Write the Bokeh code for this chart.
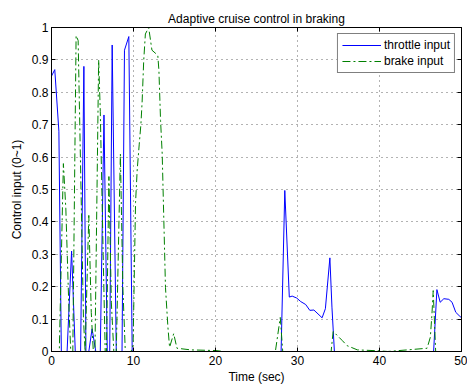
from bokeh.plotting import figure
from bokeh.models import (ColumnDataSource, FixedTicker, LinearAxis, Legend, LegendItem, Range1d)
from bokeh.embed import file_html
from bokeh.resources import INLINE

# ---- data ----
throttle_t = [0.0, 0.4, 0.9, 1.2, 1.9, 2.45, 2.9, 3.55, 3.95, 4.2, 4.55, 4.95, 5.4,
              5.95, 6.4, 6.8, 7.1, 7.4, 7.9, 8.6, 8.9, 9.43, 9.84,
              28.0, 28.45, 29.0, 29.35, 29.9, 30.4, 31.0, 31.5, 32.0, 32.5, 33.0,
              33.4, 33.95, 34.2, 34.5,
              46.6, 47.0, 47.4, 47.85, 48.45, 48.85, 49.3, 49.7, 50.0]
throttle_u = [0.85, 0.87, 0.68, 0.0, 0.0, 0.31, 0.0, 0.0, 0.88, 0.0, 0.0, 0.07, 0.0,
              0.0, 0.73, 0.0, 0.0, 0.946, 0.0, 0.0, 0.93, 0.972, 0.0,
              0.0, 0.497, 0.168, 0.171, 0.165, 0.154, 0.145, 0.127, 0.128, 0.116, 0.104,
              0.132, 0.289, 0.137, 0.0,
              0.0, 0.191, 0.152, 0.163, 0.161, 0.152, 0.121, 0.111, 0.104]

brake_t = [0.0, 0.95, 1.45, 1.75, 2.1, 2.35, 2.6, 3.0, 3.25, 3.6, 3.9, 4.1, 4.55, 4.85,
           5.1, 5.3, 5.75, 5.95, 6.3, 6.55, 6.7, 7.0, 7.3, 7.6, 7.9, 8.4, 8.7, 9.0,
           9.7, 9.95, 10.25, 10.45, 10.7, 10.9, 11.05, 11.25, 11.45, 11.85, 12.25,
           12.7, 12.96, 13.1, 13.3, 13.5, 13.7, 13.9, 14.2, 14.4, 14.9, 15.3, 17.0,
           20.0, 21.0, 27.3, 27.9, 28.2, 34.1, 34.35, 35.45, 36.05, 37.3, 40.0, 41.0,
           45.8, 46.2, 46.4, 46.55, 46.85, 50.0]
brake_u = [0.0, 0.0, 0.58, 0.44, 0.15, 0.0, 0.0, 0.975, 0.96, 0.5, 0.1, 0.0, 0.42, 0.12,
           0.0, 0.0, 0.9, 0.74, 0.3, 0.0, 0.0, 0.54, 0.15, 0.0, 0.0, 0.61, 0.2, 0.0,
           0.0, 0.02, 0.46, 0.56, 0.64, 0.7, 0.77, 0.9, 0.98, 1.0, 0.93,
           0.92, 0.915, 0.867, 0.713, 0.61, 0.404, 0.198, 0.074, 0.013, 0.055, 0.01, 0.005,
           0.003, 0.0, 0.0, 0.105, 0.0, 0.0, 0.062, 0.034, 0.018, 0.005, 0.002, 0.0,
           0.01, 0.044, 0.117, 0.188, 0.0, 0.0]

x_ticks = [0, 10, 20, 30, 40, 50]
x_tick_labels = ["0", "10", "20", "30", "40", "50"]
y_ticks = [0, 0.1, 0.2, 0.3, 0.4, 0.5, 0.6, 0.7, 0.8, 0.9, 1]
y_tick_labels = ["0", "0.1", "0.2", "0.3", "0.4", "0.5", "0.6", "0.7", "0.8", "0.9", "1"]

series_names = ["throttle input", "brake input"]
title_text = "Adaptive cruise control in braking"
x_label = "Time (sec)"
y_label = "Control input (0~1)"

FONT = "Liberation Sans"
FS = "12px"

p = figure(width=467, height=390, output_backend="svg", toolbar_location=None,
           x_range=Range1d(0, 50), y_range=Range1d(0, 1),
           min_border_left=51, min_border_right=6, min_border_top=27, min_border_bottom=39,
           title=title_text)
p.background_fill_color = "white"
p.border_fill_color = "white"
p.outline_line_color = "black"
p.outline_line_width = 1

p.title.align = "center"
p.title.text_font = FONT
p.title.text_font_size = FS
p.title.text_font_style = "normal"
p.title.text_color = "black"
p.title.standoff = 4

src_t = ColumnDataSource(dict(x=throttle_t, y=throttle_u))
src_b = ColumnDataSource(dict(x=brake_t, y=brake_u))
r_t = p.line("x", "y", source=src_t, line_color="#0000ff", line_width=1)
r_b = p.line("x", "y", source=src_b, line_color="#008000", line_width=1, line_dash="8 3 2 3")

def style_axis(ax, ticks, labels):
    ax.ticker = FixedTicker(ticks=ticks)
    ax.major_label_overrides = dict(zip(ticks, labels))
    ax.axis_line_color = "black"
    ax.major_tick_line_color = "black"
    ax.major_tick_in = 4
    ax.major_tick_out = 0
    ax.minor_tick_line_color = None
    ax.major_label_text_font = FONT
    ax.major_label_text_color = "black"
    ax.major_label_text_font_size = FS
    ax.axis_label_text_font = FONT
    ax.axis_label_text_font_size = FS
    ax.axis_label_text_font_style = "normal"
    ax.axis_label_text_color = "black"

def tick_only_axis(ticks):
    ax = LinearAxis()
    ax.ticker = FixedTicker(ticks=ticks)
    ax.axis_line_color = "black"
    ax.major_tick_line_color = "black"
    ax.major_tick_in = 4
    ax.major_tick_out = 0
    ax.minor_tick_line_color = None
    ax.major_label_text_font_size = "0px"
    ax.major_label_text_color = None
    ax.major_label_standoff = 0
    return ax

xa = p.xaxis[0]
ya = p.yaxis[0]
style_axis(xa, x_ticks, x_tick_labels)
style_axis(ya, y_ticks, y_tick_labels)
xa.axis_label = x_label
ya.axis_label = y_label
xa.major_label_standoff = 4
xa.axis_label_standoff = 2
ya.major_label_standoff = 3
ya.axis_label_standoff = 5

p.add_layout(tick_only_axis(x_ticks), "above")
p.add_layout(tick_only_axis(y_ticks), "right")

for g in (p.xgrid[0], p.ygrid[0]):
    g.grid_line_color = "#000000"
    g.grid_line_alpha = 0.6
    g.grid_line_dash = "1 4"
    g.grid_line_width = 1
p.xgrid[0].ticker = FixedTicker(ticks=x_ticks)
p.ygrid[0].ticker = FixedTicker(ticks=y_ticks)

legend = Legend(items=[LegendItem(label=series_names[0], renderers=[r_t]),
                       LegendItem(label=series_names[1], renderers=[r_b])],
                location="top_right")
legend.border_line_color = "black"
legend.border_line_width = 1
legend.background_fill_color = "white"
legend.background_fill_alpha = 1
legend.label_text_font = FONT
legend.label_text_font_size = FS
legend.label_text_color = "black"
legend.glyph_width = 39
legend.glyph_height = 12
legend.label_height = 12
legend.label_standoff = 3
legend.spacing = 2
legend.padding = 4
legend.margin = 6
p.add_layout(legend)

open("out.html", "w").write(file_html(p, INLINE))
